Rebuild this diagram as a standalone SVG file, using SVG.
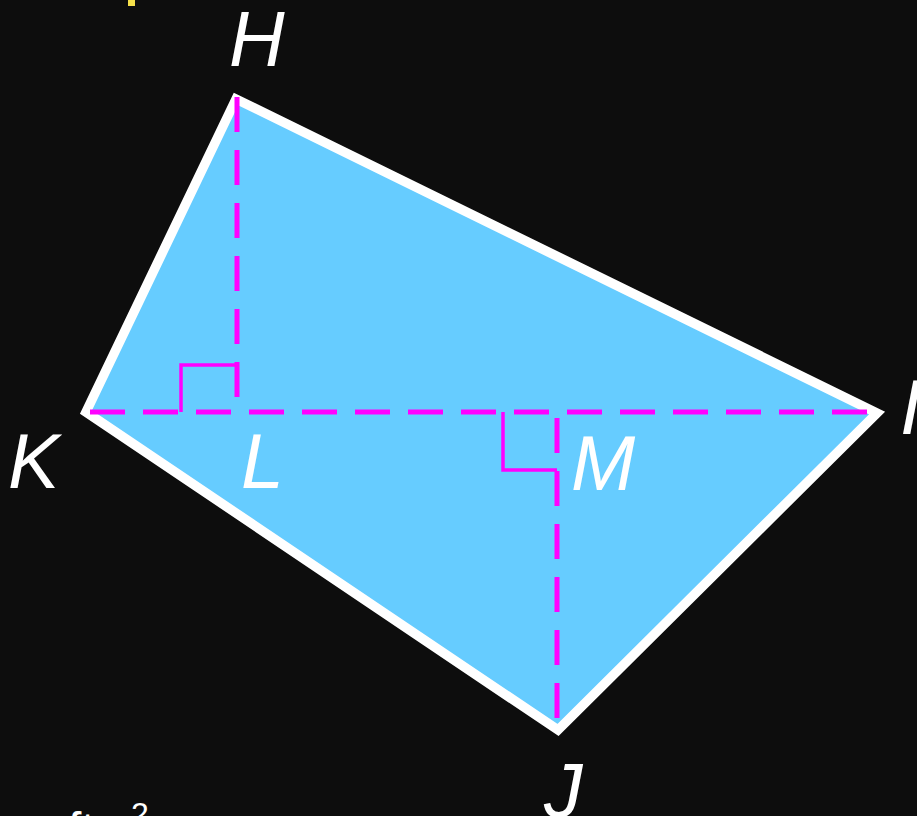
<svg xmlns="http://www.w3.org/2000/svg" width="917" height="816" viewBox="0 0 917 816">
<style>
.lbl{font-family:"Liberation Sans",Arial,sans-serif;font-style:italic;font-size:77px;fill:#ffffff}
.dash{stroke:#ff00ff;stroke-width:5;stroke-dasharray:35 18;fill:none}
.mark{stroke:#ff00ff;stroke-width:3.5;fill:none}
</style>
<rect x="0" y="0" width="917" height="816" fill="#0d0d0d"/>
<rect x="128" y="0" width="7" height="6" fill="#f5e04a"/>
<g id="shape">
<polygon points="86,412 236,99 877,413 558,730" fill="#66ccff" stroke="#ffffff" stroke-width="9.5" stroke-linejoin="miter"/>
</g>
<g id="connectors">
<line class="dash" x1="90" y1="412" x2="872" y2="412"/>
<line class="dash" x1="237" y1="97" x2="237" y2="400"/>
<line class="dash" x1="557" y1="418" x2="557" y2="720"/>
<polyline class="mark" points="181,412 181,365 237,365"/>
<polyline class="mark" points="503,412 503,470 557,470"/>
</g>
<g id="H"><text class="lbl" x="229" y="66">H</text></g>
<g id="K"><text class="lbl" x="8" y="488">K</text></g>
<g id="L"><text class="lbl" x="241" y="488">L</text></g>
<g id="M"><text class="lbl" x="571" y="490">M</text></g>
<g id="J"><text class="lbl" x="544" y="817">J</text></g>
<g id="I"><text class="lbl" x="900" y="434">I</text></g>
<text x="68" y="846" font-family="&quot;Liberation Sans&quot;,Arial,sans-serif" font-size="48" fill="#ffffff">ft</text>
<text x="131" y="825" font-family="&quot;Liberation Sans&quot;,Arial,sans-serif" font-size="32" fill="#ffffff">2</text>
</svg>
